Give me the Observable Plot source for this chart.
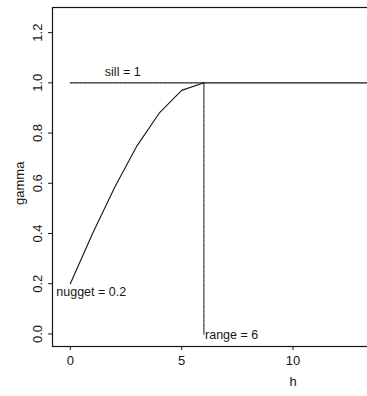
<!DOCTYPE html>
<html><head><meta charset="utf-8">
<script src="https://cdn.jsdelivr.net/npm/d3@7"></script>
<script src="https://cdn.jsdelivr.net/npm/@observablehq/plot@0.6"></script>
<style>
html,body{margin:0;padding:0;background:#fff;overflow:hidden;width:367px;height:396px;}
#chart{position:absolute;left:0;top:0;width:367px;height:396px;overflow:hidden;}
#chart svg{max-width:none !important;width:560px !important;height:396px !important;}
</style></head>
<body><div id="chart"></div>
<script>
// Semivariogram (spherical model): nugget 0.2, sill 1, range 6
const hValues = [0, 1, 2, 3, 4, 5, 6, 8, 10, 12, 14, 16, 18, 20];
const gammaValues = [0.2, 0.40, 0.585, 0.75, 0.88, 0.97, 1.0, 1.0, 1.0, 1.0, 1.0, 1.0, 1.0, 1.0];
const sillLine = {h: [0, 6], gamma: [1, 1]};
const rangeLine = {h: [6, 6], gamma: [1, 0]};
const xTicks = [0, 5, 10];
const yTicks = [0, 0.2, 0.4, 0.6, 0.8, 1.0, 1.2];
const yTickLabels = ["0.0", "0.2", "0.4", "0.6", "0.8", "1.0", "1.2"];
const annotations = [
  {h: 1.55, gamma: 1.045, label: "sill = 1"},
  {h: -0.63, gamma: 0.168, label: "nugget = 0.2"},
  {h: 6.05, gamma: -0.003, label: "range = 6"}
];
const xLabel = "h";
const yLabel = "gamma";

const curve = hValues.map((h, i) => ({h, gamma: gammaValues[i]}));
const sill = sillLine.h.map((h, i) => ({h, gamma: sillLine.gamma[i]}));
const rng = rangeLine.h.map((h, i) => ({h, gamma: rangeLine.gamma[i]}));
const yT = yTicks.map((v, i) => ({v, label: yTickLabels[i]}));

const font = "'Liberation Sans', Arial, Helvetica, sans-serif";
const ink = "#161616";

const chart = Plot.plot({
  width: 560,
  height: 396,
  marginLeft: 52,
  marginRight: 27,
  marginTop: 7,
  marginBottom: 50,
  style: {fontFamily: font, fontSize: "12.5px", color: ink, background: "#fff", overflow: "visible"},
  x: {domain: [-0.8, 20.8]},
  y: {domain: [-0.05, 1.30]},
  marks: [
    Plot.frame({stroke: ink, strokeWidth: 1.2}),
    Plot.axisX({ticks: xTicks, tickSize: 4, tickPadding: 5, fontSize: 13, stroke: ink, fill: ink, label: null, tickFormat: d => String(d)}),
    Plot.axisY({ticks: yTicks, tickSize: 4, stroke: ink, text: null, label: null}),
    Plot.text(yT, {x: -0.8, y: "v", text: "label", rotate: -90, dx: -15, fontSize: 13, fill: ink}),
    Plot.text([xLabel], {x: 10, y: -0.05, dy: 35, text: d => d, fontSize: 13, fill: ink}),
    Plot.text([yLabel], {x: -0.8, y: 0.6, dx: -33, rotate: -90, text: d => d, fontSize: 13, fill: ink}),
    Plot.line(curve, {x: "h", y: "gamma", stroke: ink, strokeWidth: 1.1}),
    Plot.line(sill, {x: "h", y: "gamma", stroke: ink, strokeWidth: 1.2, strokeDasharray: "1.5,1"}),
    Plot.line(rng, {x: "h", y: "gamma", stroke: ink, strokeWidth: 1.1, strokeDasharray: "1.5,1"}),
    Plot.text(annotations, {x: "h", y: "gamma", text: "label", textAnchor: "start", fontSize: 12.5, fill: ink})
  ]
});
document.getElementById("chart").appendChild(chart);
</script>
</body></html>
